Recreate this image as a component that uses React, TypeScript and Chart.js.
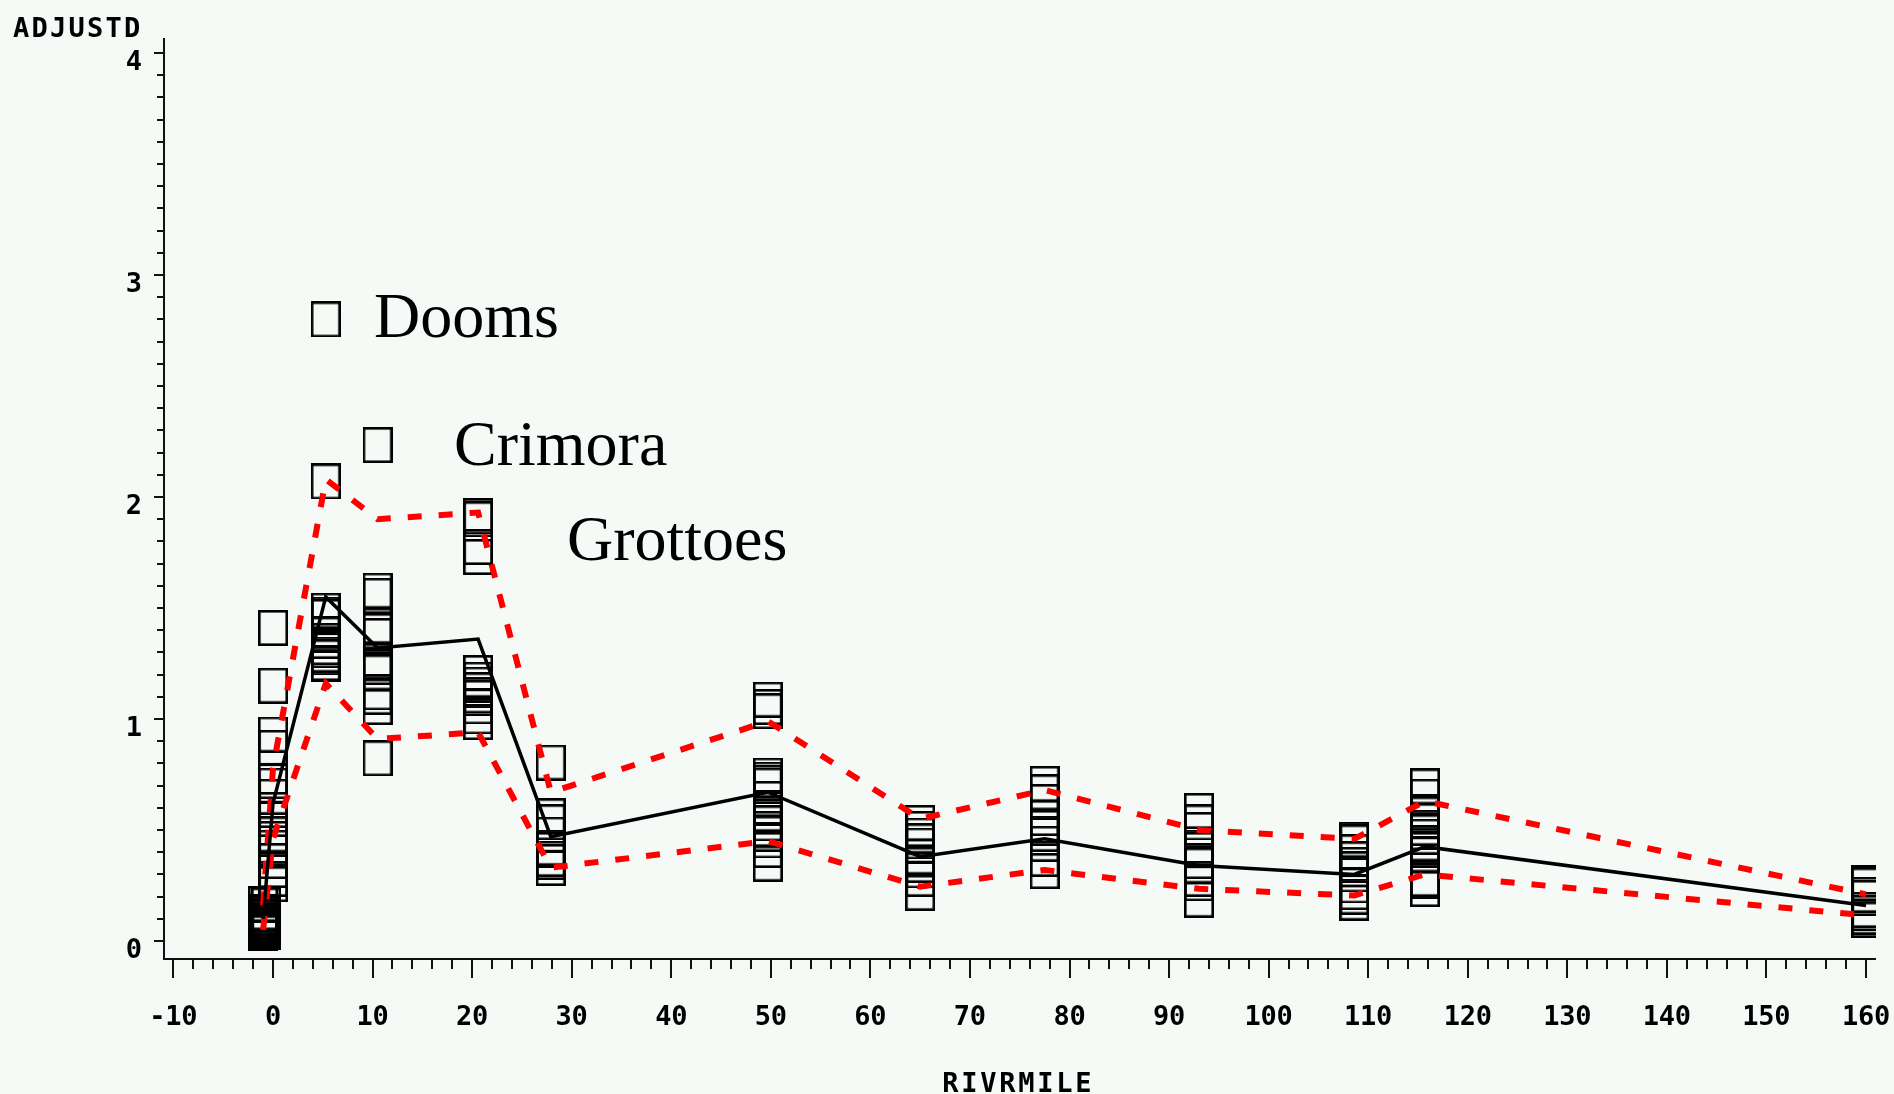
import React, { useEffect, useRef } from 'react';
import { Chart, registerables } from 'chart.js';

Chart.register(...registerables);

// ---- Data ----
const riverMiles = [-1, 0, 5.3, 10.5, 20.6, 27.9, 49.7, 65.0, 77.5, 93.0, 108.6, 115.7, 160.0];
const meanValues = [0.10, 0.62, 1.55, 1.32, 1.36, 0.47, 0.67, 0.38, 0.46, 0.34, 0.30, 0.425, 0.16];
const upperValues = [0.16, 0.78, 2.08, 1.90, 1.93, 0.67, 0.99, 0.55, 0.68, 0.50, 0.46, 0.63, 0.21];
const lowerValues = [0.05, 0.46, 1.16, 0.91, 0.94, 0.33, 0.45, 0.245, 0.32, 0.235, 0.205, 0.30, 0.115];

const obsMileM1 = [0.035, 0.04, 0.045, 0.05, 0.055, 0.06, 0.065, 0.07, 0.075, 0.08, 0.085, 0.09, 0.10, 0.11, 0.12, 0.13, 0.167];
const obsMileM07 = [0.04, 0.05, 0.06, 0.07, 0.09, 0.11, 0.12, 0.16];
const obsMile0 = [1.41, 1.15, 0.93, 0.87, 0.72, 0.70, 0.65, 0.59, 0.55, 0.48, 0.46, 0.42, 0.36, 0.32, 0.28, 0.256];
const obsMile5 = [2.80, 2.07, 1.488, 1.47, 1.46, 1.385, 1.38, 1.352, 1.324, 1.31, 1.29, 1.278, 1.252, 1.246];
const obsMile10 = [2.234, 1.578, 1.555, 1.42, 1.396, 1.374, 1.26, 1.234, 1.21, 1.12, 1.10, 1.054, 0.823];
const obsMile20 = [1.913, 1.90, 1.775, 1.73, 1.207, 1.177, 1.155, 1.129, 1.106, 1.095, 1.057, 1.012, 0.986];
const obsMile28 = [0.804, 0.562, 0.535, 0.479, 0.42, 0.41, 0.37, 0.356, 0.329];
const obsMile50 = [1.087, 1.054, 1.035, 0.745, 0.727, 0.712, 0.70, 0.64, 0.60, 0.573, 0.53, 0.505, 0.483, 0.453, 0.41, 0.348];
const obsMile65 = [0.532, 0.505, 0.475, 0.449, 0.43, 0.38, 0.343, 0.318, 0.28, 0.217];
const obsMile77 = [0.708, 0.67, 0.626, 0.554, 0.509, 0.483, 0.438, 0.37, 0.315];
const obsMile93 = [0.586, 0.534, 0.50, 0.42, 0.41, 0.36, 0.34, 0.28, 0.26, 0.186];
const obsMile108 = [0.456, 0.444, 0.40, 0.368, 0.343, 0.323, 0.30, 0.25, 0.22, 0.20, 0.173];
const obsMile115 = [0.696, 0.65, 0.58, 0.57, 0.54, 0.51, 0.49, 0.47, 0.44, 0.41, 0.39, 0.28, 0.27, 0.234];
const obsMile160 = [0.261, 0.25, 0.208, 0.194, 0.14, 0.126, 0.11, 0.096];

const obsGroups: [number, number[]][] = [
  [-1.0, obsMileM1],
  [-0.7, obsMileM07],
  [0, obsMile0],
  [5.3, obsMile5],
  [10.5, obsMile10],
  [20.6, obsMile20],
  [27.9, obsMile28],
  [49.7, obsMile50],
  [65.0, obsMile65],
  [77.5, obsMile77],
  [93.0, obsMile93],
  [108.6, obsMile108],
  [115.7, obsMile115],
  [160.0, obsMile160],
];

const xTickValues = [-10, 0, 10, 20, 30, 40, 50, 60, 70, 80, 90, 100, 110, 120, 130, 140, 150, 160];
const yTickValues = [0, 1, 2, 3, 4];
const xTitle = 'RIVRMILE';
const yTitle = 'ADJUSTD';
const siteNames = ['Dooms', 'Crimora', 'Grottoes'];

const X_MIN = -10.95;
const X_MAX = 161.0;
const Y_MIN = -0.0811;
const Y_MAX = 4.0676;

const BG = '#f5faf7';
const MONO = 'bold 27px "DejaVu Sans Mono"';

function drawSpaced(ctx: CanvasRenderingContext2D, text: string, x: number, y: number, advance: number, align: 'left' | 'center' | 'right') {
  const n = text.length;
  const lastW = ctx.measureText(text[n - 1]).width;
  const total = advance * (n - 1) + lastW;
  let start = x;
  if (align === 'center') start = x - total / 2;
  else if (align === 'right') start = x - total;
  ctx.textAlign = 'left';
  for (let i = 0; i < n; i++) {
    ctx.fillText(text[i], start + i * advance, y);
  }
}

const bgPlugin = {
  id: 'bgFill',
  beforeDraw(chart: any) {
    const { ctx, width, height } = chart;
    ctx.save();
    ctx.fillStyle = BG;
    ctx.fillRect(0, 0, width, height);
    ctx.restore();
  },
};

const axesPlugin = {
  id: 'sasAxes',
  afterDraw(chart: any) {
    const { ctx, chartArea } = chart;
    const xs = chart.scales.x;
    const ys = chart.scales.y;
    const L = chartArea.left;
    const B = chartArea.bottom;
    ctx.save();
    ctx.strokeStyle = '#111';
    ctx.fillStyle = '#000';
    ctx.lineWidth = 2;
    ctx.beginPath();
    ctx.moveTo(L, chartArea.top);
    ctx.lineTo(L, B);
    ctx.lineTo(chartArea.right, B);
    ctx.stroke();

    // y ticks every 0.1, major every 1
    ctx.beginPath();
    for (let i = 0; i <= 40; i++) {
      const py = Math.round(ys.getPixelForValue(i / 10));
      const len = i % 10 === 0 ? 10 : 7;
      ctx.moveTo(L - len, py);
      ctx.lineTo(L, py);
    }
    // x ticks every 2, major every 10
    for (let v = -10; v <= 160; v += 2) {
      const px = Math.round(xs.getPixelForValue(v));
      const len = v % 10 === 0 ? 19 : 10;
      ctx.moveTo(px, B);
      ctx.lineTo(px, B + len);
    }
    ctx.stroke();

    ctx.font = MONO;
    ctx.textBaseline = 'alphabetic';
    yTickValues.forEach((v) => {
      const py = ys.getPixelForValue(v);
      drawSpaced(ctx, String(v), 142, py + 17, 16, 'right');
    });
    xTickValues.forEach((v) => {
      const px = xs.getPixelForValue(v);
      drawSpaced(ctx, String(v), px, 1025, 16, 'center');
    });
    drawSpaced(ctx, yTitle, 13, 37, 18.5, 'left');
    drawSpaced(ctx, xTitle, 1017, 1092, 19, 'center');

    // site annotations
    ctx.font = '64px "Liberation Serif"';
    ctx.textAlign = 'left';
    ctx.fillText(siteNames[0], 374, 337);
    ctx.fillText(siteNames[1], 454, 465);
    ctx.fillText(siteNames[2], 567, 560);
    ctx.restore();
  },
};

function makeBox(): HTMLCanvasElement {
  const c = document.createElement('canvas');
  c.width = 30;
  c.height = 36;
  const g = c.getContext('2d')!;
  g.strokeStyle = '#000';
  g.lineWidth = 2.6;
  g.strokeRect(1.3, 1.3, 27.4, 33.4);
  return c;
}

export default function App() {
  const ref = useRef<HTMLCanvasElement | null>(null);

  useEffect(() => {
    document.body.style.margin = '0';
    document.body.style.background = BG;
    const canvas = ref.current!;
    const box = makeBox();
    const toPts = (vals: number[]) => riverMiles.map((x, i) => ({ x, y: vals[i] }));
    const obsPts: { x: number; y: number }[] = [];
    obsGroups.forEach(([mile, vals]) => vals.forEach((v) => obsPts.push({ x: mile, y: v })));

    const chart = new Chart(canvas, {
      type: 'scatter',
      data: {
        datasets: [
          {
            label: 'Mean',
            data: toPts(meanValues),
            showLine: true,
            borderColor: '#000',
            borderWidth: 3.5,
            pointRadius: 0,
            tension: 0,
            order: 0,
          } as any,
          {
            label: 'Upper',
            data: toPts(upperValues),
            showLine: true,
            borderColor: '#ff0000',
            borderWidth: 6,
            borderDash: [14, 17],
            pointRadius: 0,
            tension: 0,
            order: 0,
          },
          {
            label: 'Lower',
            data: toPts(lowerValues),
            showLine: true,
            borderColor: '#ff0000',
            borderWidth: 6,
            borderDash: [14, 17],
            pointRadius: 0,
            tension: 0,
            order: 0,
          },
          {
            label: 'Observations',
            data: obsPts,
            showLine: false,
            pointStyle: box as any,
            pointRadius: 15,
            order: 1,
          },
        ],
      },
      options: {
        animation: false,
        responsive: false,
        maintainAspectRatio: false,
        devicePixelRatio: 1,
        events: [],
        layout: { padding: { left: 164, right: 18, top: 38, bottom: 135 } },
        scales: {
          x: { type: 'linear', min: X_MIN, max: X_MAX, display: false },
          y: { type: 'linear', min: Y_MIN, max: Y_MAX, display: false },
        },
        plugins: {
          legend: { display: false },
          tooltip: { enabled: false },
        },
      },
      plugins: [bgPlugin, axesPlugin],
    });
    return () => chart.destroy();
  }, []);

  return (
    <canvas
      ref={ref}
      width={1894}
      height={1094}
      style={{ position: 'fixed', left: 0, top: 0, width: 1894, height: 1094, display: 'block' }}
    />
  );
}
